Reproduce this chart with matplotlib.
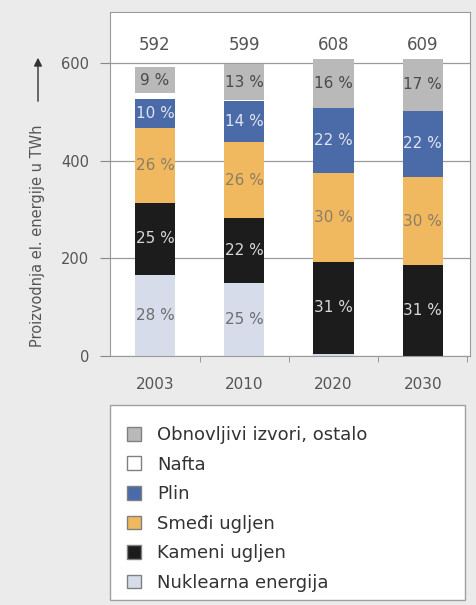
import matplotlib.pyplot as plt
from matplotlib.patches import Patch, Rectangle, FancyArrowPatch
import numpy as np

plt.rcParams['font.family'] = ['DejaVu Sans']

# years and totals (TWh)
godine = ['2003', '2010', '2020', '2030']
ukupno = [592, 599, 608, 609]

# stacked segments in TWh, bottom to top
nuklearna = [166, 150, 5, 0]
kameni = [148, 132, 188, 186]
smedji = [154, 156, 182, 180]
plin = [59, 84, 134, 137]
nafta = [12, 2, 0, 0]
obnovljivi = [53, 75, 99, 106]

# percent labels written in the segments (None = no label)
pct_nuklearna = [28, 25, None, None]
pct_kameni = [25, 22, 31, 31]
pct_smedji = [26, 26, 30, 30]
pct_plin = [10, 14, 22, 22]
pct_obnovljivi = [9, 13, 16, 17]

serije = [
    ('Nuklearna energija', nuklearna, pct_nuklearna, '#d6dcea', '#6e6e6e'),
    ('Kameni ugljen', kameni, pct_kameni, '#1c1c1c', '#d8d8d8'),
    ('Smeđi ugljen', smedji, pct_smedji, '#f1b95f', '#8c7d66'),
    ('Plin', plin, pct_plin, '#4b6aa8', '#dfe5f0'),
    ('Nafta', nafta, None, '#ffffff', None),
    ('Obnovljivi izvori, ostalo', obnovljivi, pct_obnovljivi, '#b9b9b9', '#4a4a4a'),
]

bg = '#ebebeb'
fig = plt.figure(figsize=(4.77, 6.05), dpi=100, facecolor=bg)
ax = fig.add_axes([110/477, 1-356/605, 360/477, 344/605])
ax.set_facecolor('white')

x = np.arange(len(godine))
dno = np.zeros(len(godine))
for ime, vrijednosti, pct, boja, tboja in serije:
    v = np.array(vrijednosti, dtype=float)
    ax.bar(x, v, 0.45, bottom=dno, color=boja, edgecolor='none', zorder=2)
    if pct is not None:
        for i in range(len(x)):
            if pct[i] is not None:
                ax.text(x[i], dno[i] + v[i]/2, f'{pct[i]} %', ha='center', va='center',
                        color=tboja, fontsize=11, zorder=3)
    dno += v

for i in range(len(x)):
    ax.text(x[i], 0.904, str(ukupno[i]), transform=ax.get_xaxis_transform(),
            ha='center', va='center', fontsize=12, color='#555555')

ax.set_xlim(-0.504, 3.53)
ax.set_ylim(0, 705)
ax.set_yticks([0, 200, 400, 600])
ax.yaxis.grid(True, color='#9a9a9a', lw=0.9)
ax.set_axisbelow(True)
ax.set_xticks(x)
ax.set_xticklabels(godine)
ax.set_xticks([0.5, 1.5, 2.5, 3.5], minor=True)
ax.tick_params(axis='x', which='major', length=0, pad=15, labelsize=11, labelcolor='#555555')
ax.tick_params(axis='x', which='minor', length=4, color='#888888')
ax.tick_params(axis='y', length=7, color='#888888', pad=8, labelsize=10.5, labelcolor='#555555')
for s in ax.spines.values():
    s.set_color('#9a9a9a')

# y label with arrow
fig.text(38/477, 1-236/605, 'Proizvodnja el. energije u TWh', rotation=90,
         ha='center', va='center', fontsize=10.5, color='#555555')
fig.patches.append(FancyArrowPatch(
    (38/477, 1-104/605), (38/477, 1-55/605), transform=fig.transFigure,
    arrowstyle='-|>', mutation_scale=12, color='#333333', lw=1))

# legend box
fig.patches.append(Rectangle((110/477, 1-600/605), 355/477, 195/605, transform=fig.transFigure,
                             facecolor='white', edgecolor='#a0a0a0', lw=1))
ruke = [Patch(facecolor=b, edgecolor='#808080', lw=1, label=n) for n, _, _, b, _ in serije][::-1]
fig.legend(handles=ruke, loc='upper left', bbox_to_anchor=(118/477, 1-417/605),
           frameon=False, fontsize=13, handlelength=0.8, handleheight=0.8,
           handletextpad=0.85, labelspacing=0.64, borderpad=0, labelcolor='#333333')

fig.savefig('out.png', dpi=100, facecolor=bg)
